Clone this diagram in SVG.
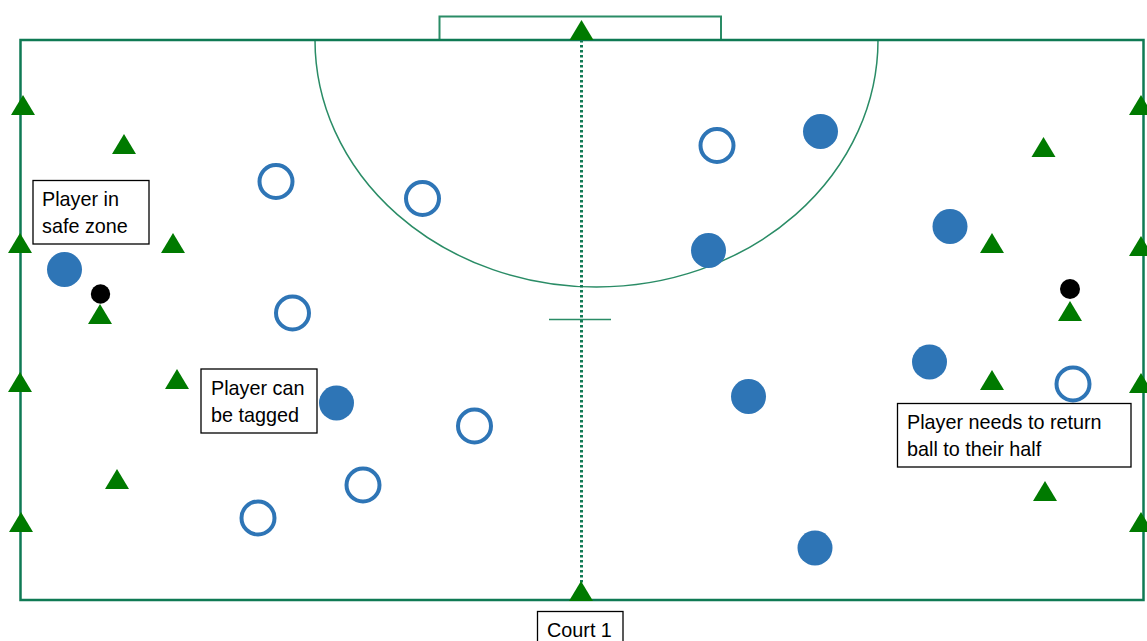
<svg xmlns="http://www.w3.org/2000/svg" width="1147" height="641" viewBox="0 0 1147 641">
<style>
.court{fill:none;stroke:#0F7A54;stroke-width:2.5}
.thin{fill:none;stroke:#2A8C66;stroke-width:1.5}
.cone{fill:#007A00}
.full{fill:#2E75B6}
.open{fill:none;stroke:#2E75B6;stroke-width:4}
.ball{fill:#000}
.box{fill:#fff;stroke:#000;stroke-width:1.3}
.lbl{font-family:"Liberation Sans",Arial,sans-serif;font-size:19.8px;fill:#000}
</style>
<defs>
<path id="tri" d="M-12,0 L0,-20 L12,0 Z"/>
</defs>
<rect width="1147" height="641" fill="#fff"/>
<g id="court">
<rect class="thin" x="439.5" y="16.5" width="281.5" height="23.5" style="stroke-width:2"/>
<path class="thin" d="M315,40 A281.5,247 0 0 0 878,40"/>
<line class="thin" x1="549" y1="319.5" x2="611" y2="319.5"/>
<rect class="court" x="20.5" y="40" width="1123" height="560"/>
</g>
<g id="connectors">
<line x1="581.5" y1="40" x2="581.5" y2="600" stroke="#0F7A54" stroke-width="3" stroke-dasharray="2.5,2.5"/>
</g>
<g id="cones">
<use href="#tri" class="cone" x="23" y="115"/>
<use href="#tri" class="cone" x="20" y="253"/>
<use href="#tri" class="cone" x="20" y="392"/>
<use href="#tri" class="cone" x="21" y="532"/>
<use href="#tri" class="cone" x="124" y="154"/>
<use href="#tri" class="cone" x="173" y="253"/>
<use href="#tri" class="cone" x="100" y="324"/>
<use href="#tri" class="cone" x="177" y="389"/>
<use href="#tri" class="cone" x="117" y="489"/>
<use href="#tri" class="cone" x="581.5" y="40"/>
<use href="#tri" class="cone" x="581" y="601"/>
<use href="#tri" class="cone" x="1141" y="115"/>
<use href="#tri" class="cone" x="1141" y="256"/>
<use href="#tri" class="cone" x="1141" y="393"/>
<use href="#tri" class="cone" x="1141" y="532"/>
<use href="#tri" class="cone" x="1043.5" y="157"/>
<use href="#tri" class="cone" x="992" y="253"/>
<use href="#tri" class="cone" x="1070" y="321"/>
<use href="#tri" class="cone" x="992" y="390"/>
<use href="#tri" class="cone" x="1045" y="501"/>
</g>
<g id="players-filled">
<circle class="full" cx="64.5" cy="269.5" r="17.5"/>
<circle class="full" cx="336.5" cy="403" r="17.5"/>
<circle class="full" cx="820.5" cy="131.5" r="17.5"/>
<circle class="full" cx="708.5" cy="250.5" r="17.5"/>
<circle class="full" cx="950" cy="226.5" r="17.5"/>
<circle class="full" cx="929.5" cy="362" r="17.5"/>
<circle class="full" cx="748.5" cy="396.5" r="17.5"/>
<circle class="full" cx="815" cy="548" r="17.5"/>
</g>
<g id="players-open">
<circle class="open" cx="276" cy="181.5" r="16.5"/>
<circle class="open" cx="422.5" cy="198.5" r="16.5"/>
<circle class="open" cx="292.5" cy="313" r="16.5"/>
<circle class="open" cx="474.5" cy="426" r="16.5"/>
<circle class="open" cx="363" cy="485" r="16.5"/>
<circle class="open" cx="258" cy="518" r="16.5"/>
<circle class="open" cx="717" cy="145.5" r="16.5"/>
<circle class="open" cx="1073" cy="384" r="16.5"/>
</g>
<g id="balls">
<circle class="ball" cx="100.5" cy="294" r="9.7"/>
<circle class="ball" cx="1070" cy="289" r="10"/>
</g>
<g id="label-safe">
<rect class="box" x="33" y="180.5" width="116" height="63.5"/>
<text class="lbl" x="42" y="206">Player in</text>
<text class="lbl" x="42" y="233">safe zone</text>
</g>
<g id="label-tagged">
<rect class="box" x="201" y="369" width="116" height="64"/>
<text class="lbl" x="211" y="395">Player can</text>
<text class="lbl" x="211" y="422">be tagged</text>
</g>
<g id="label-return">
<rect class="box" x="897.5" y="403.5" width="233.5" height="63.5"/>
<text class="lbl" x="907" y="429">Player needs to return</text>
<text class="lbl" x="907" y="456">ball to their half</text>
</g>
<g id="label-court">
<rect class="box" x="537.5" y="611.5" width="85.5" height="40"/>
<text class="lbl" x="547" y="637">Court 1</text>
</g>
</svg>
